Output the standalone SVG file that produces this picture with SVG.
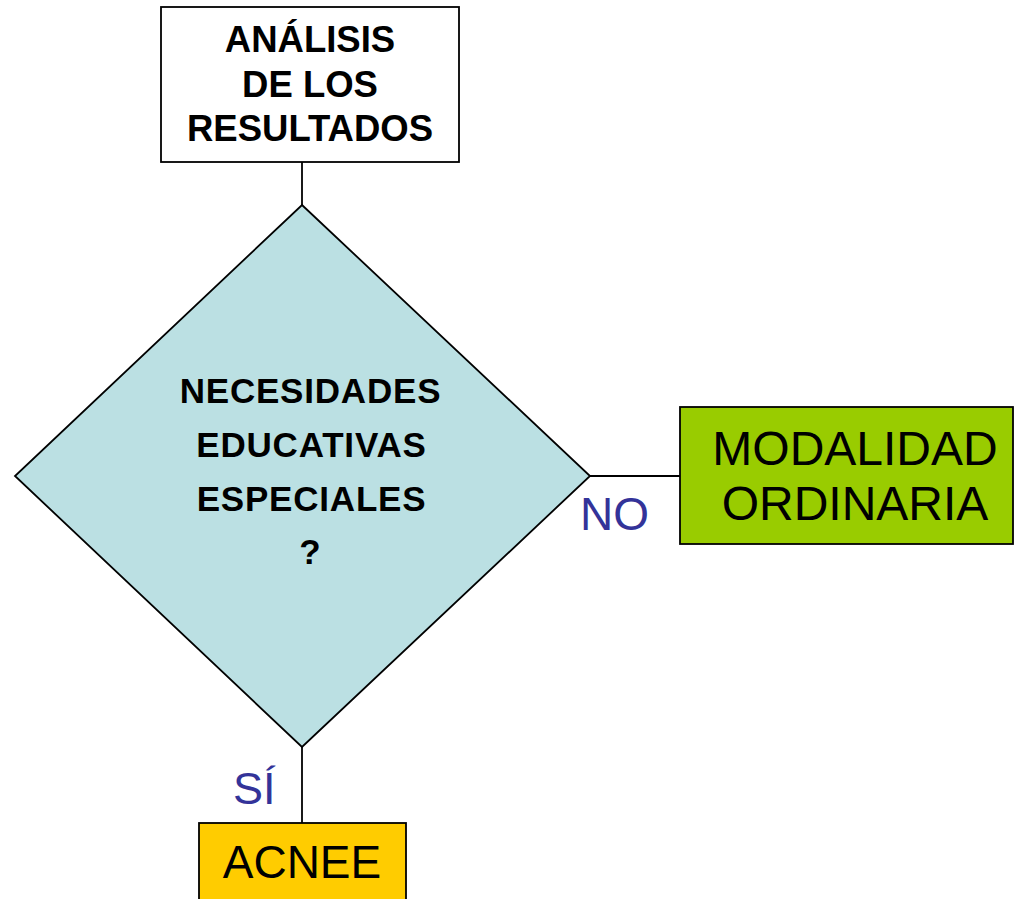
<svg xmlns="http://www.w3.org/2000/svg" width="1014" height="899" viewBox="0 0 1014 899">
<style>
.shape{stroke:#000;stroke-width:1.8}
.conn{stroke:#000;stroke-width:1.8;fill:none}
.b{font-family:"Liberation Sans",Arial,sans-serif;font-weight:bold;fill:#000;text-anchor:middle}
.r{font-family:"Liberation Sans",Arial,sans-serif;fill:#000;text-anchor:middle}
.lbl{font-family:"Liberation Sans",Arial,sans-serif;fill:#333399}
</style>
<rect width="1014" height="899" fill="#fff"/>
<g id="connectors">
<line class="conn" x1="302" y1="162" x2="302" y2="205"/>
<line class="conn" x1="590" y1="476" x2="681" y2="476"/>
<line class="conn" x1="302" y1="747" x2="302" y2="823"/>
</g>
<g id="analisis">
<rect class="shape" x="161" y="7" width="298" height="155" fill="#fff"/>
<text class="b" font-size="36.5" x="310" y="52">ANÁLISIS</text>
<text class="b" font-size="36.5" x="310" y="97">DE LOS</text>
<text class="b" font-size="36.5" x="310" y="141">RESULTADOS</text>
</g>
<g id="decision">
<polygon class="shape" points="302,205 590,476 302,747 15,476" fill="#BBE0E3"/>
<text class="b" font-size="35" letter-spacing="0.8" x="310.5" y="403">NECESIDADES</text>
<text class="b" font-size="35" letter-spacing="0.8" x="311.5" y="457">EDUCATIVAS</text>
<text class="b" font-size="35" letter-spacing="0.8" x="311.5" y="511">ESPECIALES</text>
<text class="b" font-size="35" x="310" y="564">?</text>
</g>
<g id="modalidad">
<rect class="shape" x="680" y="407" width="333" height="137" fill="#99CC00"/>
<text class="r" font-size="48" x="855" y="465">MODALIDAD</text>
<text class="r" font-size="48" x="855" y="520">ORDINARIA</text>
</g>
<g id="acnee">
<rect class="shape" x="199" y="823" width="207" height="90" fill="#FFCC00"/>
<text class="r" font-size="46" x="302" y="878">ACNEE</text>
</g>
<g id="labels">
<text class="lbl" font-size="46" x="580" y="530">NO</text>
<text class="lbl" font-size="45" x="233" y="804">SÍ</text>
</g>
</svg>
